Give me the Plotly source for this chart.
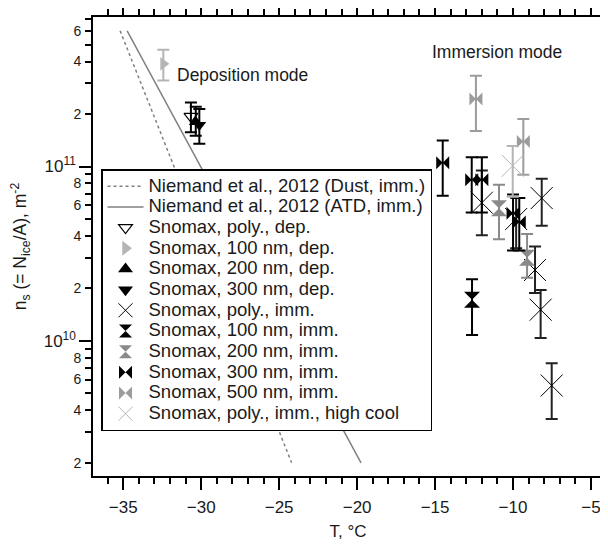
import numpy as np
import plotly.graph_objects as go

FONT = "Liberation Sans, Arial, sans-serif"
TXT = "#1a1a1a"

# ---- data ----
niemand_dust_T = [-35.2, -24.2]
niemand_dust_ns = [6.0e11, 2.0e9]
niemand_atd_T = [-34.75, -19.75]
niemand_atd_ns = [6.0e11, 2.0e9]

poly_dep_T = [-30.66]
poly_dep_ns = [1.94e11]
poly_dep_hi = [2.33e11]
poly_dep_lo = [1.57e11]

dep100_T = [-32.43]
dep100_ns = [3.88e11]
dep100_hi = [4.67e11]
dep100_lo = [3.11e11]

dep200_T = [-30.35]
dep200_ns = [1.80e11]
dep200_hi = [2.20e11]
dep200_lo = [1.50e11]

dep300_T = [-30.12]
dep300_ns = [1.73e11]
dep300_hi = [2.14e11]
dep300_lo = [1.35e11]

poly_imm_T = [-12.0, -9.8, -8.16, -8.59, -8.23, -7.52]
poly_imm_ns = [6.2e10, 5.0e10, 6.59e10, 2.55e10, 1.51e10, 5.55e9]
poly_imm_hi = [9.5e10, 6.6e10, 8.5e10, 3.48e10, 1.96e10, 7.45e9]
poly_imm_lo = [4.04e10, 3.4e10, 4.58e10, 1.88e10, 1.04e10, 3.57e9]

imm100_T = [-12.63]
imm100_ns = [1.72e10]
imm100_hi = [2.26e10]
imm100_lo = [1.08e10]

imm200_T = [-10.9, -9.1]
imm200_ns = [5.77e10, 3.0e10]
imm200_hi = [7.85e10, 4.1e10]
imm200_lo = [3.83e10, 2.3e10]

imm300_T = [-14.51, -12.65, -12.0, -10.0, -9.6]
imm300_ns = [1.05e11, 8.4e10, 8.4e10, 5.4e10, 4.8e10]
imm300_hi = [1.41e11, 1.13e11, 1.13e11, 6.9e10, 6.6e10]
imm300_lo = [6.8e10, 5.45e10, 5.45e10, 3.3e10, 3.3e10]

imm500_T = [-12.38, -9.34]
imm500_ns = [2.44e11, 1.39e11]
imm500_hi = [3.31e11, 1.87e11]
imm500_lo = [1.6e11, 8.96e10]

highcool_T = [-10.02]
highcool_ns = [1.01e11]
highcool_hi = [1.31e11]
highcool_lo = [6.7e10]

x_ticks = [-35, -30, -25, -20, -15, -10, -5]
y_major = [1e10, 1e11]
y_major_text = ["10<sup>10</sup>", "10<sup>11</sup>"]
y_digit = [2e9, 4e9, 6e9, 8e9, 2e10, 4e10, 6e10, 8e10, 2e11, 4e11, 6e11]
y_digit_text = ["2", "4", "6", "8", "2", "4", "6", "8", "2", "4", "6"]
y_minor = [3e9, 5e9, 7e9, 9e9, 3e10, 5e10, 7e10, 9e10, 3e11, 5e11, 7e11]

BLACK = "#000000"
LGRAY = "#b5b5b5"
MGRAY = "#8a8a8a"
BGRAY = "#9c9c9c"

series = [
    ("Snomax, poly., dep.", poly_dep_T, poly_dep_ns, poly_dep_hi, poly_dep_lo,
     "triangle-down-open", 12, BLACK, BLACK, 1.2, 12),
    ("Snomax, 100 nm, dep.", dep100_T, dep100_ns, dep100_hi, dep100_lo,
     "triangle-right", 12, LGRAY, LGRAY, 0, 13),
    ("Snomax, 200 nm, dep.", dep200_T, dep200_ns, dep200_hi, dep200_lo,
     "triangle-up", 12, BLACK, BLACK, 0, 13),
    ("Snomax, 300 nm, dep.", dep300_T, dep300_ns, dep300_hi, dep300_lo,
     "triangle-down", 12, BLACK, BLACK, 0, 13),
    ("Snomax, poly., imm.", poly_imm_T, poly_imm_ns, poly_imm_hi, poly_imm_lo,
     "x-thin", 22, BLACK, "#222222", 1.0, 14),
    ("Snomax, 100 nm, imm.", imm100_T, imm100_ns, imm100_hi, imm100_lo,
     "hourglass", 16, BLACK, BLACK, 0, 13),
    ("Snomax, 200 nm, imm.", imm200_T, imm200_ns, imm200_hi, imm200_lo,
     "hourglass", 16, MGRAY, MGRAY, 0, 13),
    ("Snomax, 300 nm, imm.", imm300_T, imm300_ns, imm300_hi, imm300_lo,
     "bowtie", 13, BLACK, BLACK, 0, 13),
    ("Snomax, 500 nm, imm.", imm500_T, imm500_ns, imm500_hi, imm500_lo,
     "bowtie", 13, BGRAY, BGRAY, 0, 13),
    ("Snomax, poly., imm., high cool", highcool_T, highcool_ns, highcool_hi, highcool_lo,
     "x-thin", 22, LGRAY, LGRAY, 1.0, 14),
]

fig = go.Figure()

LEG_SPAN = '<span style="font-size:18.5px">{}</span>'

# Niemand lines
fig.add_trace(go.Scatter(x=niemand_dust_T, y=niemand_dust_ns, mode="lines",
                         line=dict(color="#808080", width=1.5, dash="3px,3px"),
                         name=LEG_SPAN.format("Niemand et al., 2012 (Dust, imm.)")))
fig.add_trace(go.Scatter(x=niemand_atd_T, y=niemand_atd_ns, mode="lines",
                         line=dict(color="#808080", width=1.5),
                         name=LEG_SPAN.format("Niemand et al., 2012 (ATD, imm.)")))

# data traces (no legend)
for (name, T, ns, hi, lo, sym, size, col, ecol, lw, lsize) in series:
    ns_a = np.array(ns)
    err_p = np.array(hi) - ns_a
    err_m = ns_a - np.array(lo)
    if sym.startswith("x-thin") or sym.endswith("-open"):
        marker = dict(symbol=sym, size=size, color=col, line=dict(color=col, width=max(lw, 1)))
    else:
        marker = dict(symbol=sym, size=size, color=col, line=dict(width=0))
    fig.add_trace(go.Scatter(
        x=T, y=ns, mode="markers", marker=marker, showlegend=False,
        error_y=dict(type="data", symmetric=False, array=err_p, arrayminus=err_m,
                     color=ecol, thickness=2, width=6),
        hoverinfo="skip"))

# legend-only traces
for (name, T, ns, hi, lo, sym, size, col, ecol, lw, lsize) in series:
    if sym.startswith("x-thin") or sym.endswith("-open"):
        marker = dict(symbol=sym, size=lsize, color=col, line=dict(color=col, width=max(lw, 1)))
    else:
        marker = dict(symbol=sym, size=lsize, color=col, line=dict(width=0))
    fig.add_trace(go.Scatter(x=[None], y=[None], mode="markers", marker=marker,
                             name=LEG_SPAN.format(name)))

# dummy trace for the overlay axis carrying the digit labels
fig.add_trace(go.Scatter(x=[None], y=[None], yaxis="y2", showlegend=False, hoverinfo="skip"))

yr = [np.log10(1.68e9), np.log10(7.2e11)]

# the page body has an 8px margin, so the figure is drawn 8px smaller and offset
fig.update_layout(
    width=600, height=538,
    margin=dict(l=85, r=5, t=9, b=70, autoexpand=False),
    paper_bgcolor="white", plot_bgcolor="white",
    font=dict(family=FONT, color=TXT, size=17),
    showlegend=True,
    legend=dict(x=0.0157, y=0.668, xanchor="left", yanchor="top",
                bgcolor="white", bordercolor="black", borderwidth=1.5,
                font=dict(size=13.6, family=FONT, color=TXT),
                itemwidth=36, tracegroupgap=0),
    xaxis=dict(range=[-36.94, -4.23], tickmode="array", tickvals=x_ticks,
               automargin=False,
               ticks="outside", ticklen=12, tickwidth=1.5, tickcolor="black",
               showline=True, linecolor="black", linewidth=1.5, mirror="ticks",
               showgrid=False, zeroline=False,
               tickfont=dict(size=17, family=FONT, color=TXT),
               ticklabelstandoff=3,
               minor=dict(tickmode="linear", tick0=-35, dtick=1, ticks="outside",
                          ticklen=6, tickwidth=1.5, tickcolor="black", showgrid=False),
               title=dict(text="T, °C", font=dict(size=17, family=FONT, color=TXT), standoff=9)),
    yaxis=dict(type="log", range=yr, tickmode="array", tickvals=y_major, ticktext=y_major_text,
               automargin=False,
               ticks="outside", ticklen=12, tickwidth=1.5, tickcolor="black",
               showline=True, linecolor="black", linewidth=1.5, mirror="ticks",
               showgrid=False, zeroline=False,
               tickfont=dict(size=17, family=FONT, color=TXT),
               minor=dict(tickmode="array", tickvals=y_minor + y_digit, ticks="outside",
                          ticklen=6, tickwidth=1.5, tickcolor="black", showgrid=False),
               title=dict(text="n<sub>s</sub> (= N<sub>ice</sub>/A), m<sup>-2</sup>",
                          font=dict(size=17.5, family=FONT, color=TXT), standoff=14)),
    yaxis2=dict(type="log", range=yr, overlaying="y", side="left", anchor="x",
                automargin=False,
                tickmode="array", tickvals=y_digit, ticktext=y_digit_text,
                ticks="outside", ticklen=7, tickwidth=1.5, tickcolor="black",
                showline=False, showgrid=False, zeroline=False,
                tickfont=dict(size=14, family=FONT, color=TXT), ticklabelstandoff=1),
    annotations=[
        dict(x=-31.7, y=np.log10(3.36e11), xref="x", yref="y", text="Deposition mode",
             showarrow=False, xanchor="left", yanchor="middle",
             font=dict(size=17.5, family=FONT, color=TXT)),
        dict(x=-15.3, y=np.log10(4.55e11), xref="x", yref="y", text="Immersion mode",
             showarrow=False, xanchor="left", yanchor="middle",
             font=dict(size=17.5, family=FONT, color=TXT)),
    ],
)

fig.write_html("out.html")
